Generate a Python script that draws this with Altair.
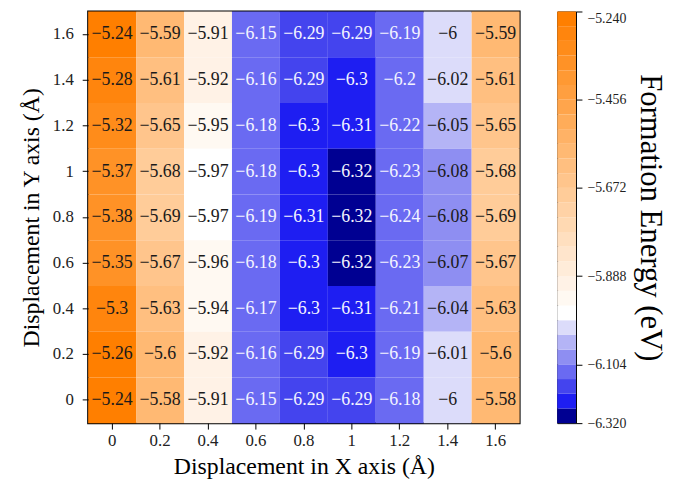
import altair as alt
import pandas as pd

# ---- data ----
X_LABELS = ["0", "0.2", "0.4", "0.6", "0.8", "1", "1.2", "1.4", "1.6"]
Y_LABELS = ["1.6", "1.4", "1.2", "1", "0.8", "0.6", "0.4", "0.2", "0"]  # top to bottom

ROW_16 = [-5.24, -5.59, -5.91, -6.15, -6.29, -6.29, -6.19, -6.00, -5.59]
ROW_14 = [-5.28, -5.61, -5.92, -6.16, -6.29, -6.30, -6.20, -6.02, -5.61]
ROW_12 = [-5.32, -5.65, -5.95, -6.18, -6.30, -6.31, -6.22, -6.05, -5.65]
ROW_10 = [-5.37, -5.68, -5.97, -6.18, -6.30, -6.32, -6.23, -6.08, -5.68]
ROW_08 = [-5.38, -5.69, -5.97, -6.19, -6.31, -6.32, -6.24, -6.08, -5.69]
ROW_06 = [-5.35, -5.67, -5.96, -6.18, -6.30, -6.32, -6.23, -6.07, -5.67]
ROW_04 = [-5.30, -5.63, -5.94, -6.17, -6.30, -6.31, -6.21, -6.04, -5.63]
ROW_02 = [-5.26, -5.60, -5.92, -6.16, -6.29, -6.30, -6.19, -6.01, -5.60]
ROW_00 = [-5.24, -5.58, -5.91, -6.15, -6.29, -6.29, -6.18, -6.00, -5.58]
ROWS = [ROW_16, ROW_14, ROW_12, ROW_10, ROW_08, ROW_06, ROW_04, ROW_02, ROW_00]

# colour levels (band boundaries, ascending)
BOUNDS = [-6.32, -6.315, -6.295, -6.26, -6.104, -6.06, -6.03, -5.985, -5.96,
          -5.924, -5.888, -5.852, -5.816, -5.78, -5.744, -5.708, -5.672, -5.636,
          -5.6, -5.564, -5.528, -5.492, -5.456, -5.42, -5.384, -5.348, -5.312,
          -5.276, -5.24]
CB_TICKS = [-6.32, -6.104, -5.888, -5.672, -5.456, -5.24]

BLUES = ["#000092", "#1e1ef2", "#4444ee", "#6a6af2", "#8e8ef2", "#b4b4f6", "#dcdcfa"]
WHITE = ["#ffffff"]
ORANGES = []
for j in range(20):
    t = (j + 1) / 20
    g = round(255 - 128 * t)
    b = round(255 - 255 * t)
    ORANGES.append("#ff%02x%02x" % (g, b))
COLORS = BLUES + WHITE + ORANGES

records = []
for yl, row in zip(Y_LABELS, ROWS):
    for xl, v in zip(X_LABELS, row):
        records.append({"x": xl, "y": yl, "v": v})
df = pd.DataFrame(records)

bands = pd.DataFrame({"lo": BOUNDS[:-1], "hi": BOUNDS[1:]})

FONT = "Liberation Serif"
color_scale = alt.Scale(type="threshold", domain=BOUNDS[1:-1], range=COLORS)

W, H = 436, 416
CBW = 19

base = alt.Chart(df).encode(
    x=alt.X("x:O", sort=X_LABELS,
            scale=alt.Scale(paddingInner=0, paddingOuter=0),
            axis=alt.Axis(title="Displacement in X axis (Å)", labelAngle=0,
                          tickSize=6, labelPadding=4, titlePadding=6,
                          labelFont=FONT, titleFont=FONT,
                          labelFontSize=17, titleFontSize=24, domain=False)),
    y=alt.Y("y:O", sort=Y_LABELS,
            scale=alt.Scale(paddingInner=0, paddingOuter=0),
            axis=alt.Axis(title="Displacement in Y axis (Å)",
                          tickSize=6, labelPadding=9, titlePadding=9,
                          labelFont=FONT, titleFont=FONT,
                          labelFontSize=17, titleFontSize=24, domain=False)),
)

cells = base.mark_rect().encode(
    color=alt.Color("v:Q", scale=color_scale, legend=None)
)
texts = base.mark_text(font=FONT, fontSize=18).encode(
    text=alt.Text("v:Q", format="~g"),
    color=alt.condition("datum.v < -6.1", alt.value("#f4f4ff"), alt.value("#1a1a1a")),
)
heat = alt.layer(cells, texts).properties(
    width=W, height=H,
    view=alt.ViewBackground(stroke="black", strokeWidth=2),
)

cb_range = [H - i * H / (len(BOUNDS) - 1) for i in range(len(BOUNDS))]
cbar = alt.Chart(bands).transform_calculate(
    mid="(datum.lo + datum.hi) / 2"
).mark_rect().encode(
    x=alt.value(0), x2=alt.value(CBW),
    y=alt.Y("lo:Q", scale=alt.Scale(domain=BOUNDS, range=cb_range, nice=False, zero=False),
            axis=alt.Axis(orient="right", values=CB_TICKS, format=".3f",
                          title="Formation Energy (eV)", titleFontSize=31,
                          titleAngle=90, titlePadding=8, titleBaseline="bottom",
                          labelFont=FONT, titleFont=FONT,
                          labelFontSize=14, tickSize=6, labelPadding=5,
                          domain=False, grid=False,
                          labelBaseline={"condition": {"test": "datum.value > -5.3", "value": "top"},
                                         "value": "middle"})),
    y2="hi:Q",
    color=alt.Color("mid:Q", scale=color_scale, legend=None),
).properties(
    width=CBW, height=H,
    view=alt.ViewBackground(stroke="black", strokeWidth=1),
)

chart = alt.hconcat(heat, cbar, spacing=36).properties(
    padding={"left": 10, "top": 0, "right": 5, "bottom": 5}
).configure_axis(
    labelFont=FONT, titleFont=FONT, titleFontWeight="normal",
    labelColor="#222222", titleColor="black", tickColor="black",
).configure_view(stroke=None)

chart.save("out.html", embed_options={"renderer": "svg", "actions": False})
